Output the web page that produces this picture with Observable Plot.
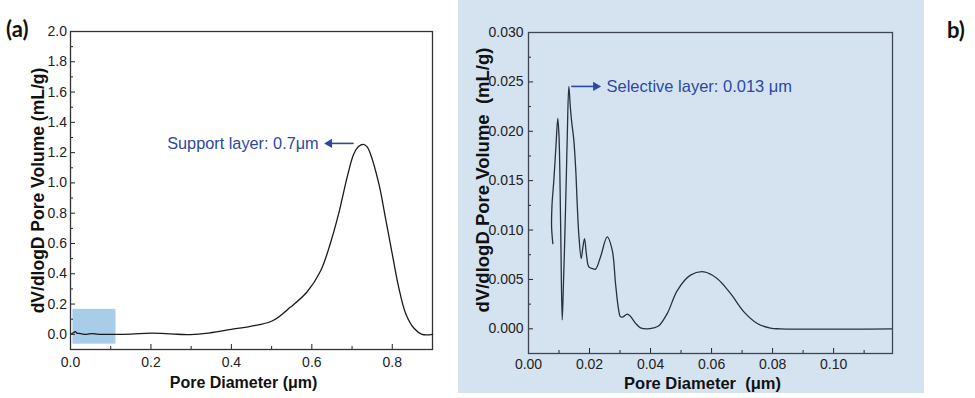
<!DOCTYPE html>
<html><head><meta charset="utf-8">
<script src="https://cdn.jsdelivr.net/npm/d3@7"></script>
<script src="https://cdn.jsdelivr.net/npm/@observablehq/plot@0.6"></script>
<style>
body{margin:0;background:#fff;}
#wrap{position:relative;width:975px;height:398px;overflow:hidden;}
#a,#b{position:absolute;top:0;}
#a{left:0;}
#b{left:458px;}
.panel-label{position:absolute;font-family:Lato,"Open Sans",sans-serif;font-weight:bold;font-size:22px;line-height:1;color:#111;}
</style></head><body>
<div id="wrap"><div id="a"></div><div id="b"></div>
<div class="panel-label" style="left:6px;top:18px">(a)</div>
<div class="panel-label" style="left:947px;top:19px">b)</div>
</div>
<script>
// ---- Panel (a): support layer ----
const aDiameter = [0.003,0.008,0.012,0.016,0.02,0.03,0.04,0.054,0.065,0.075,0.1,0.15,0.2,0.25,0.29,0.33,0.37,0.4,0.4475,0.501,0.547,0.588,0.622,0.646,0.667,0.688,0.704,0.716,0.728,0.737,0.746,0.767,0.783,0.80,0.816,0.833,0.854,0.874,0.90];
const aVolume   = [0.005,0.012,0.018,0.008,0.006,0.002,0.0,0.005,0.002,0.0,0.0,0.002,0.008,0.003,-0.002,0.005,0.02,0.033,0.053,0.088,0.18,0.28,0.42,0.60,0.80,1.04,1.19,1.24,1.255,1.24,1.19,0.99,0.77,0.53,0.31,0.14,0.04,0.0,0.0];
const aXTicks = [0, 0.2, 0.4, 0.6, 0.8];
const aXMinor = [0.1, 0.3, 0.5, 0.7];
const aYTicks = [0, 0.2, 0.4, 0.6, 0.8, 1.0, 1.2, 1.4, 1.6, 1.8, 2.0];
const aYMinor = [0.1, 0.3, 0.5, 0.7, 0.9, 1.1, 1.3, 1.5, 1.7, 1.9];
const aHighlight = [{x1: 0.006, x2: 0.113, y1: -0.065, y2: 0.165}];
const aArrow = [{x1: 0.704, x2: 0.635, y: 1.261, dir: -1}];
const aNote = [{x: 0.617, y: 1.261, text: "Support layer: 0.7μm"}];
const aXLabel = "Pore Diameter (μm)";
const aYLabel = "dV/dlogD Pore Volume (mL/g)";

// ---- Panel (b): selective layer ----
const bDiameter = [0.00798,0.00757,0.0077,0.0083,0.0090,0.0096,0.0100,0.01027,0.0106,0.01104,0.0114,0.0119,0.0124,0.0127,0.01322,0.0137,0.0141,0.01486,0.0155,0.01596,0.0165,0.01727,0.0178,0.01836,0.0190,0.01978,0.0210,0.02197,0.0236,0.0258,0.02744,0.02852,0.0295,0.03016,0.0310,0.03236,0.0334,0.0351,0.0367,0.0389,0.0410,0.0427,0.0455,0.0488,0.0531,0.0575,0.0618,0.0662,0.0706,0.075,0.0793,0.0826,0.119];
const bVolume   = [0.00863,0.0103,0.0125,0.0150,0.0185,0.0213,0.0195,0.016,0.009,0.0009,0.004,0.0093,0.0155,0.0194,0.02454,0.0225,0.0211,0.01908,0.016,0.01268,0.0095,0.00712,0.0082,0.00914,0.0075,0.00627,0.0061,0.00604,0.00728,0.0093,0.00796,0.00459,0.0020,0.00121,0.0012,0.00149,0.00128,0.00055,0.0001,0.0,0.0001,0.0003,0.00156,0.0039,0.00543,0.00577,0.0051,0.00358,0.00172,0.00054,0.00007,0.0,0.0];
const bXTicks = [0, 0.02, 0.04, 0.06, 0.08, 0.10];
const bXMinor = [0.01, 0.03, 0.05, 0.07, 0.09, 0.11];
const bYTicks = [0, 0.005, 0.010, 0.015, 0.020, 0.025, 0.030];
const bYMinor = [0.0025, 0.0075, 0.0125, 0.0175, 0.0225, 0.0275];
const bArrow = [{x1: 0.0140, x2: 0.0232, y: 0.02454, dir: 1}];
const bNote = [{x: 0.02557, y: 0.02454, text: "Selective layer: 0.013 μm"}];
const bXLabel = "Pore Diameter  (μm)";
const bYLabel = "dV/dlogD Pore Volume  (mL/g)";

const noteBlue = "#2c48a4";
const aData = aDiameter.map((d, i) => ({d, v: aVolume[i]}));
const bData = bDiameter.map((d, i) => ({d, v: bVolume[i]}));
const blank = () => "";

const baseStyle = {fontFamily: "'Liberation Sans', Arial, sans-serif", fontSize: "14px", color: "#222"};

function arrowMarks(data) {
  return [
    Plot.link(data, {x1: "x1", y1: "y", x2: "x2", y2: "y", stroke: noteBlue, strokeWidth: 1.6}),
    Plot.dot(data, {x: "x2", y: "y", symbol: "triangle", r: 3.4, fill: noteBlue, stroke: "none",
      rotate: d => d.dir * 90, dx: data[0].dir * -3.5})
  ];
}

const plotA = Plot.plot({
  width: 450, height: 398,
  marginLeft: 70, marginRight: 18, marginTop: 31, marginBottom: 49,
  style: {...baseStyle, background: "transparent"},
  x: {domain: [0, 0.9]},
  y: {domain: [-0.1, 2.0]},
  marks: [
    Plot.rect(aHighlight, {x1: "x1", x2: "x2", y1: "y1", y2: "y2", fill: "#a8cde9"}),
    Plot.axisX({ticks: aXTicks, tickFormat: d3.format(".1f"), tickSize: -5, tickPadding: 13, label: null, fontSize: 14}),
    Plot.axisX({ticks: aXMinor, tickSize: -3, tickFormat: blank, label: null}),
    Plot.axisY({ticks: aYTicks, tickFormat: d3.format(".1f"), tickSize: -5, tickPadding: 8.5, label: null, fontSize: 14}),
    Plot.axisY({ticks: aYMinor, tickSize: -3, tickFormat: blank, label: null}),
    Plot.frame({stroke: "#333", strokeWidth: 1.3}),
    Plot.line(aData, {x: "d", y: "v", curve: "catmull-rom", stroke: "#1a1a1a", strokeWidth: 1.3}),
    ...arrowMarks(aArrow),
    Plot.text(aNote, {x: "x", y: "y", text: "text", textAnchor: "end", fill: noteBlue, fontSize: 16.3}),
    Plot.text([aXLabel], {text: d => d, frameAnchor: "bottom", lineAnchor: "middle", dy: 33, dx: -8, fontWeight: "bold", fontSize: 16, fill: "#111"}),
    Plot.text([aYLabel], {text: d => d, frameAnchor: "left", textAnchor: "middle", lineAnchor: "middle", rotate: -90, dx: -32, fontWeight: "bold", fontSize: 17.5, fill: "#111"})
  ]
});
document.getElementById("a").appendChild(plotA);

const plotB = Plot.plot({
  width: 466, height: 393,
  marginLeft: 70, marginRight: 32, marginTop: 32, marginBottom: 40,
  style: {...baseStyle, background: "#d5e3f0"},
  x: {domain: [0, 0.1193]},
  y: {domain: [-0.0025, 0.030]},
  marks: [
    Plot.axisX({ticks: bXTicks, tickFormat: d3.format(".2f"), tickSize: -5, tickPadding: 11, label: null, fontSize: 14}),
    Plot.axisX({ticks: bXMinor, tickSize: -3, tickFormat: blank, label: null}),
    Plot.axisY({ticks: bYTicks, tickFormat: d3.format(".3f"), tickSize: -5, tickPadding: 10, label: null, fontSize: 14}),
    Plot.axisY({ticks: bYMinor, tickSize: -3, tickFormat: blank, label: null}),
    Plot.frame({stroke: "#3d4650", strokeWidth: 1.3}),
    Plot.line(bData, {x: "d", y: "v", curve: "catmull-rom", stroke: "#27313d", strokeWidth: 1.3}),
    ...arrowMarks(bArrow),
    Plot.text(bNote, {x: "x", y: "y", text: "text", textAnchor: "start", fill: noteBlue, fontSize: 16.5}),
    Plot.text([bXLabel], {text: d => d, frameAnchor: "bottom", lineAnchor: "middle", dy: 30, dx: -8, fontWeight: "bold", fontSize: 16.5, fill: "#111"}),
    Plot.text([bYLabel], {text: d => d, frameAnchor: "left", textAnchor: "middle", lineAnchor: "middle", rotate: -90, dx: -45, dy: -13, fontWeight: "bold", fontSize: 18.5, fill: "#111"})
  ]
});
document.getElementById("b").appendChild(plotB);
</script>
</body></html>
